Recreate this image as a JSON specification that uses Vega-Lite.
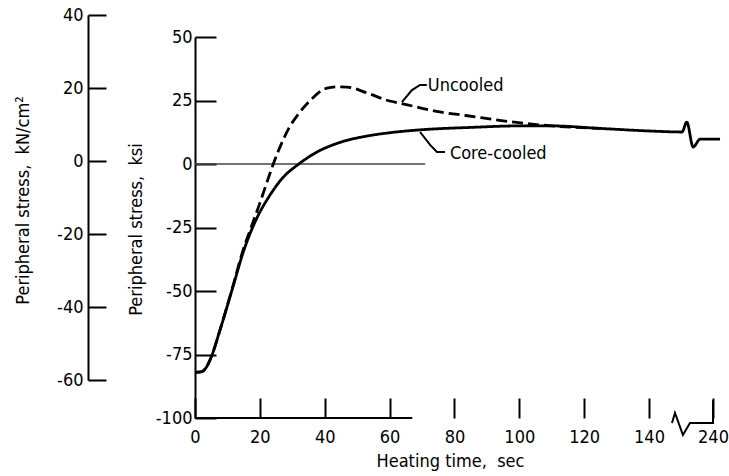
{
  "$schema": "https://vega.github.io/schema/vega-lite/v6.json",
  "width": 530,
  "height": 403,
  "autosize": "none",
  "padding": {"left": 195, "top": 15, "right": 4, "bottom": 58},
  "background": "white",
  "config": {
    "view": {"stroke": null},
    "font": "DejaVu Sans Condensed",
    "axis": {
      "labelFont": "DejaVu Sans Condensed",
      "titleFont": "DejaVu Sans Condensed",
      "labelFontSize": 18,
      "titleFontSize": 18,
      "titleFontWeight": "normal",
      "labelColor": "black",
      "titleColor": "black",
      "tickColor": "black",
      "domainColor": "black",
      "grid": false,
      "labelFlush": false,
      "labelOverlap": false
    }
  },
  "datasets": {
    "curves": [
      {"series": "Core-cooled", "t": 0, "ksi": -82},
      {"series": "Core-cooled", "t": 2, "ksi": -81.8},
      {"series": "Core-cooled", "t": 3.5, "ksi": -80},
      {"series": "Core-cooled", "t": 5, "ksi": -76},
      {"series": "Core-cooled", "t": 7.7, "ksi": -65.4},
      {"series": "Core-cooled", "t": 11.7, "ksi": -48.4},
      {"series": "Core-cooled", "t": 14.8, "ksi": -35},
      {"series": "Core-cooled", "t": 19, "ksi": -21.5},
      {"series": "Core-cooled", "t": 23, "ksi": -12.5},
      {"series": "Core-cooled", "t": 27, "ksi": -5.5},
      {"series": "Core-cooled", "t": 31.8, "ksi": -0.2},
      {"series": "Core-cooled", "t": 37.6, "ksi": 4.7},
      {"series": "Core-cooled", "t": 44.7, "ksi": 8.5},
      {"series": "Core-cooled", "t": 53, "ksi": 11},
      {"series": "Core-cooled", "t": 60, "ksi": 12.3},
      {"series": "Core-cooled", "t": 70, "ksi": 13.5},
      {"series": "Core-cooled", "t": 85, "ksi": 14.4},
      {"series": "Core-cooled", "t": 100, "ksi": 15},
      {"series": "Core-cooled", "t": 110, "ksi": 15},
      {"series": "Core-cooled", "t": 125, "ksi": 14},
      {"series": "Core-cooled", "t": 140, "ksi": 13},
      {"series": "Core-cooled", "t": 160, "ksi": 12.8},
      {"series": "Core-cooled", "t": 191.6, "ksi": 12.6},
      {"series": "Core-cooled", "t": 199, "ksi": 16.5},
      {"series": "Core-cooled", "t": 209, "ksi": 6.7},
      {"series": "Core-cooled", "t": 220, "ksi": 9.8},
      {"series": "Core-cooled", "t": 251, "ksi": 9.8},
      {"series": "Uncooled", "t": 0, "ksi": -82},
      {"series": "Uncooled", "t": 2, "ksi": -81.8},
      {"series": "Uncooled", "t": 3.5, "ksi": -80},
      {"series": "Uncooled", "t": 5, "ksi": -76},
      {"series": "Uncooled", "t": 7.7, "ksi": -65.4},
      {"series": "Uncooled", "t": 11.7, "ksi": -48},
      {"series": "Uncooled", "t": 14.8, "ksi": -34},
      {"series": "Uncooled", "t": 17, "ksi": -26},
      {"series": "Uncooled", "t": 20, "ksi": -15.4},
      {"series": "Uncooled", "t": 22.5, "ksi": -6},
      {"series": "Uncooled", "t": 24, "ksi": -0.5},
      {"series": "Uncooled", "t": 27, "ksi": 9},
      {"series": "Uncooled", "t": 29, "ksi": 14.2},
      {"series": "Uncooled", "t": 31.5, "ksi": 19},
      {"series": "Uncooled", "t": 35.5, "ksi": 25},
      {"series": "Uncooled", "t": 40.7, "ksi": 29.9},
      {"series": "Uncooled", "t": 43.8, "ksi": 30.4},
      {"series": "Uncooled", "t": 46.9, "ksi": 30.3},
      {"series": "Uncooled", "t": 53, "ksi": 28},
      {"series": "Uncooled", "t": 60, "ksi": 24.8},
      {"series": "Uncooled", "t": 63, "ksi": 24},
      {"series": "Uncooled", "t": 75.5, "ksi": 20.5},
      {"series": "Uncooled", "t": 84, "ksi": 19},
      {"series": "Uncooled", "t": 95, "ksi": 17},
      {"series": "Uncooled", "t": 104, "ksi": 15.7},
      {"series": "Uncooled", "t": 110, "ksi": 15},
      {"series": "Uncooled", "t": 125, "ksi": 14}
    ],
    "guides": [
      {"part": "leaderU", "i": 1, "t": 63.8, "ksi": 24.4},
      {"part": "leaderU", "i": 2, "t": 66.9, "ksi": 29.1},
      {"part": "leaderU", "i": 3, "t": 69.4, "ksi": 31.1},
      {"part": "leaderU", "i": 4, "t": 71.5, "ksi": 31.1},
      {"part": "leaderC", "i": 1, "t": 69.4, "ksi": 12.6},
      {"part": "leaderC", "i": 2, "t": 72.5, "ksi": 7.5},
      {"part": "leaderC", "i": 3, "t": 74.6, "ksi": 4.7},
      {"part": "leaderC", "i": 4, "t": 77.1, "ksi": 4.7},
      {"part": "xbreak", "i": 1, "t": 175.9, "ksi": -102},
      {"part": "xbreak", "i": 2, "t": 180.6, "ksi": -98},
      {"part": "xbreak", "i": 3, "t": 193, "ksi": -106.7},
      {"part": "xbreak", "i": 4, "t": 204, "ksi": -102},
      {"part": "xbreak", "i": 5, "t": 240, "ksi": -102},
      {"part": "xbreak", "i": 6, "t": 240, "ksi": -93}
    ],
    "rules": [
      {"name": "baseline", "t": 0, "t2": 67, "ksi": -100}
    ],
    "zero": [
      {"name": "zero", "t": 0, "t2": 71, "ksi": 0}
    ],
    "labels": [
      {"label": "Uncooled", "t": 71.8, "ksi": 30.9},
      {"label": "Core-cooled", "t": 78.6, "ksi": 4.1}
    ],
    "kn": [
      {"kN": -60},
      {"kN": 40}
    ]
  },
  "layer": [
    {
      "layer": [
        {
          "data": {"name": "zero"},
          "mark": {"type": "rule", "color": "#444444", "strokeWidth": 1.3},
          "encoding": {
            "x": {"field": "t", "type": "quantitative"},
            "x2": {"field": "t2"},
            "y": {"field": "ksi", "type": "quantitative"}
          }
        },
        {
          "data": {"name": "curves"},
          "mark": {"type": "line", "color": "black", "strokeWidth": 2.8, "interpolate": "monotone"},
          "encoding": {
            "x": {
              "field": "t",
              "type": "quantitative",
              "scale": {"domain": [0, 140, 240], "range": [0, 454, 518], "nice": false, "zero": false},
              "axis": {
                "values": [0, 20, 40, 60, 80, 100, 120, 140, 240],
                "domain": false,
                "tickSize": -20,
                "tickWidth": 2,
                "labelPadding": 30,
                "labelExpr": "'' + datum.value",
                "title": "Heating time,\u00a0 sec",
                "titleX": 255,
                "titleY": 34,
                "titleBaseline": "top",
                "titleAlign": "center",
                "titleAnchor": null
              }
            },
            "y": {
              "field": "ksi",
              "type": "quantitative",
              "scale": {"domain": [-100, 50], "range": [403, 22], "nice": false, "zero": false},
              "axis": {
                "orient": "left",
                "values": [-100, -75, -50, -25, 0, 25, 50],
                "domainWidth": 2,
                "tickSize": -21,
                "tickWidth": 2,
                "labelPadding": 24,
                "labelExpr": "'' + datum.value",
                "title": "Peripheral stress,\u00a0 ksi",
                "titleX": -54,
                "titleY": 214,
                "titleAngle": -90,
                "titleBaseline": "alphabetic",
                "titleAlign": "center",
                "titleAnchor": null
              }
            },
            "strokeDash": {
              "field": "series",
              "type": "nominal",
              "scale": {"domain": ["Core-cooled", "Uncooled"], "range": [[1, 0], [11, 5]]},
              "legend": null
            }
          }
        },
        {
          "data": {"name": "guides"},
          "mark": {"type": "line", "color": "black", "strokeWidth": 2},
          "encoding": {
            "x": {"field": "t", "type": "quantitative"},
            "y": {"field": "ksi", "type": "quantitative"},
            "detail": {"field": "part", "type": "nominal"},
            "order": {"field": "i", "type": "quantitative"}
          }
        },
        {
          "data": {"name": "rules"},
          "mark": {"type": "rule", "color": "black", "strokeWidth": 2},
          "encoding": {
            "x": {"field": "t", "type": "quantitative"},
            "x2": {"field": "t2"},
            "y": {"field": "ksi", "type": "quantitative"}
          }
        },
        {
          "data": {"name": "labels"},
          "mark": {"type": "text", "align": "left", "baseline": "middle", "fontSize": 18, "font": "DejaVu Sans Condensed", "color": "black"},
          "encoding": {
            "x": {"field": "t", "type": "quantitative"},
            "y": {"field": "ksi", "type": "quantitative"},
            "text": {"field": "label", "type": "nominal"}
          }
        }
      ]
    },
    {
      "data": {"name": "kn"},
      "mark": {"type": "point", "opacity": 0},
      "encoding": {
        "y": {
          "field": "kN",
          "type": "quantitative",
          "scale": {"domain": [-60, 40], "range": [365, 0], "nice": false, "zero": false},
          "axis": {
            "orient": "left",
            "offset": 107,
            "values": [-60, -40, -20, 0, 20, 40],
            "domainWidth": 2,
            "tickSize": -18,
            "tickWidth": 2,
            "labelPadding": 23,
            "labelExpr": "'' + datum.value",
            "title": "Peripheral stress,\u00a0 kN/cm²",
            "titleX": -60,
            "titleY": 185,
            "titleAngle": -90,
            "titleBaseline": "alphabetic",
            "titleAlign": "center",
            "titleAnchor": null
          }
        }
      }
    }
  ],
  "resolve": {"scale": {"y": "independent"}, "axis": {"y": "independent"}}
}
